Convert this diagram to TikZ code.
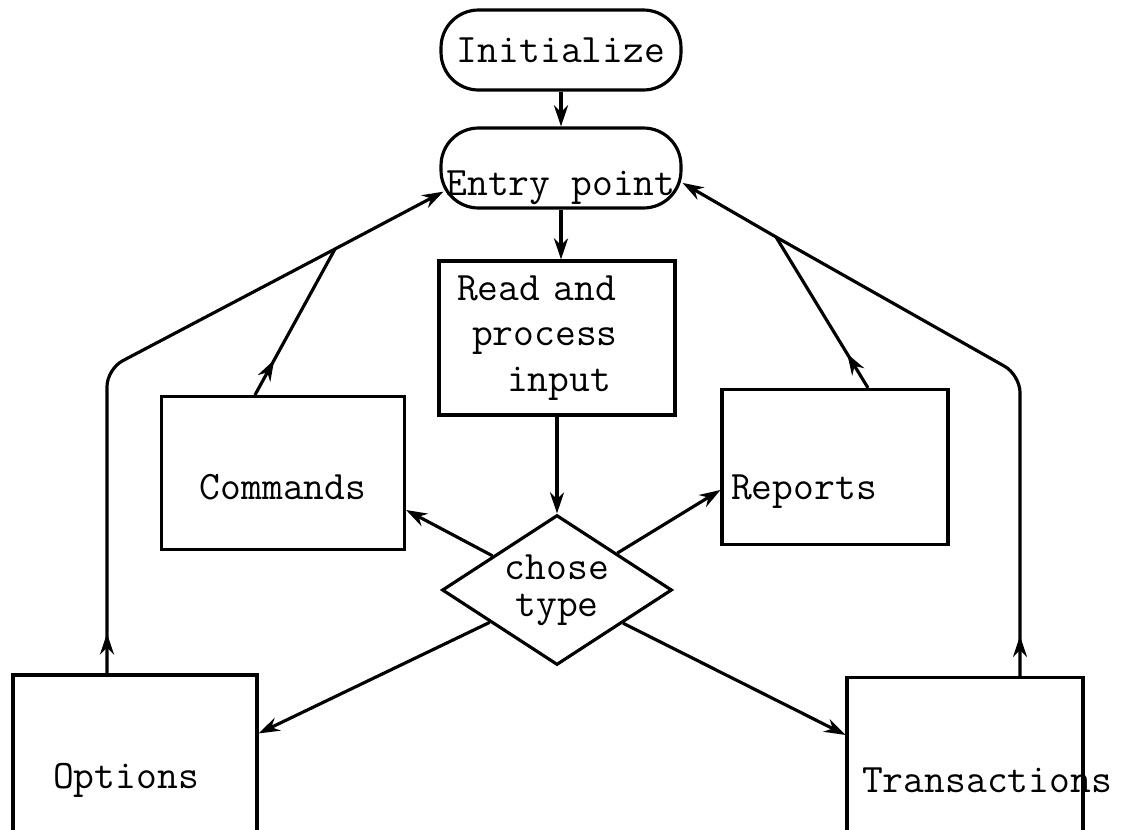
\documentclass[tikz,border=0pt]{standalone}
\usepackage{fontspec}
\usetikzlibrary{shapes.geometric,arrows.meta,decorations.markings}

\tikzset{
  >={Stealth[length=12pt,width=8pt]},
  line/.style={line width=1.8pt},
  term/.style={draw,line,rectangle,rounded corners=0.75cm,minimum width=4.8cm,minimum height=1.6cm,inner sep=0pt},
  proc/.style={draw,line,rectangle,inner sep=0pt},
  choice/.style={draw,line,diamond,shape aspect=1.55,minimum width=4.6cm,minimum height=3cm,inner sep=0pt,align=center,font=\ttfamily\fontsize{23}{21}\selectfont},
  flow/.style={line,->},
  midarrow/.style={postaction={decorate},decoration={markings,mark=at position 0.8cm with {\arrow{>}}}}
}

\begin{document}
\begin{tikzpicture}[x=0.02cm,y=-0.02cm,font=\ttfamily\fontsize{23}{26}\selectfont]
  \useasboundingbox (0,0) rectangle (1148,829);

  \node[term] (init) at (561,50) {Initialize};
  \node[term,text height=1.08cm,text depth=0pt] (entry) at (561,168) {Entry point};
  \node[proc,minimum width=4.72cm,minimum height=3.08cm,text width=4cm,align=left] (read) at (557,338)
    {Read and\\\hspace*{0.3cm}process\\\hspace*{1cm}input};
  \node[choice] (dia) at (557,590) {chose\\type};
  \node[proc,minimum width=4.86cm,minimum height=3.06cm,label={[yshift=-0.28cm]center:Commands}] (com) at (283,473) {};
  \node[proc,minimum width=4.52cm,minimum height=3.1cm,label={[xshift=-0.62cm,yshift=-0.5cm]center:Reports}] (rep) at (835,467) {};
  \node[proc,minimum width=4.88cm,minimum height=3.4cm,label={[xshift=-0.18cm,yshift=-0.4cm]center:Options}] (opt) at (135,760) {};
  \node[proc,minimum width=4.72cm,minimum height=3.34cm,label={[xshift=0.44cm,yshift=-0.38cm]center:Transactions}] (tra) at (965,761) {};

  \coordinate (lbend) at (107,369);
  \coordinate (ljoin) at (335,249);
  \coordinate (rbend) at (1020,375);
  \coordinate (rjoin) at (776,237);

  \draw[flow] (init) -- (entry);
  \draw[flow] (entry.south) -- (entry.south |- read.north);
  \draw[flow] (read.south) -- (dia.north);
  \draw[flow] (dia) -- ([yshift=-0.74cm]com.east);
  \draw[flow] (dia) -- ([yshift=-0.46cm]rep.west);
  \draw[flow] (dia) -- ([yshift=-1.2cm]opt.north east);
  \draw[flow] (dia) -- ([yshift=-1.18cm]tra.north west);

  \draw[flow,midarrow,rounded corners=0.35cm] (lbend |- opt.north) -- (lbend) -- (ljoin) -- ([xshift=0.08cm]entry.191);
  \draw[line,midarrow] ([xshift=-0.56cm]com.north) -- (ljoin);
  \draw[flow,midarrow,rounded corners=0.35cm] (rbend |- tra.north) -- (rbend) -- (rjoin) -- (entry.353);
  \draw[line,midarrow] ([xshift=0.66cm]rep.north) -- (rjoin);
\end{tikzpicture}
\end{document}
